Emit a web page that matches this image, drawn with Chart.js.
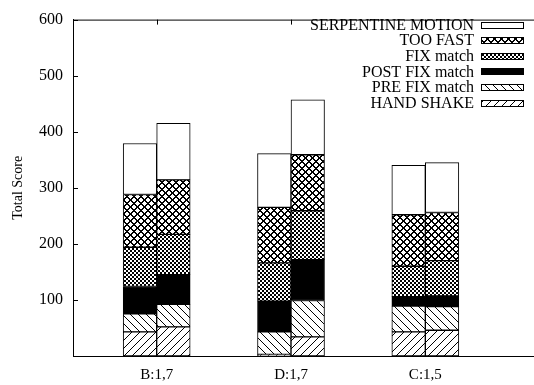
<!DOCTYPE html>
<html>
<head>
<meta charset="utf-8">
<script src="https://cdn.jsdelivr.net/npm/chart.js@4.4.0/dist/chart.umd.min.js"></script>
<style>
body { margin: 0; background: #fff; }
#wrap { width: 534px; height: 385px; }
</style>
</head>
<body>
<div id="wrap"><canvas id="chart" width="534" height="385"></canvas></div>
<script>
var categories = ["B:1,7", "D:1,7", "C:1,5"];
var layerNames = ["HAND SHAKE", "PRE FIX match", "POST FIX match", "FIX match", "TOO FAST", "SERPENTINE MOTION"];

// first bar of each pair
var handShakeA = [43, 3, 43];
var preFixA = [32, 40, 46];
var postFixA = [49, 55, 17];
var fixA = [70, 68, 54];
var tooFastA = [94, 99, 92];
var serpentineA = [91, 96, 88];

// second bar of each pair
var handShakeB = [52, 34, 46];
var preFixB = [40, 65, 42];
var postFixB = [53, 73, 19];
var fixB = [72, 87, 63];
var tooFastB = [97, 100, 86];
var serpentineB = [101, 98, 89];

var yTicks = [100, 200, 300, 400, 500, 600];

var ctx = document.getElementById("chart");
var FONT = "'Liberation Serif', 'Times New Roman', serif";

// pixel tiles for the gnuplot style fills
function makePattern(size, isInk)
{
    var c = document.createElement("canvas");
    c.width = size;
    c.height = size;
    var g = c.getContext("2d");
    var img = g.createImageData(size, size);
    for (var y = 0; y < size; y++) {
        for (var x = 0; x < size; x++) {
            var k = (y * size + x) * 4;
            var v = isInk(x, y) ? 0 : 255;
            img.data[k] = v; img.data[k + 1] = v; img.data[k + 2] = v; img.data[k + 3] = 255;
        }
    }
    g.putImageData(img, 0, 0);
    return ctx.getContext("2d").createPattern(c, "repeat");
}

var fills = [
    makePattern(8, function(x, y) { return (x + y) % 8 == 7; }),
    makePattern(8, function(x, y) { return (x - y + 8) % 8 == 0; }),
    "#000000",
    makePattern(4, function(x, y) { return ((x >> 1) + (y >> 1)) % 2 == 0; }),
    makePattern(7, function(x, y) { return (x + y) % 7 < 2 || (x - y + 14) % 7 < 2; }),
    "#ffffff"
];

var seriesA = [handShakeA, preFixA, postFixA, fixA, tooFastA, serpentineA];
var seriesB = [handShakeB, preFixB, postFixB, fixB, tooFastB, serpentineB];

function points(arr)
{
    return arr.map(function(v, i) { return {x: i, y: v}; });
}

var datasets = [];
for (var i = 0; i < layerNames.length; i++) {
    datasets.push({ label: layerNames[i], stack: "A", data: points(seriesA[i]), backgroundColor: fills[i] });
    datasets.push({ label: layerNames[i], stack: "B", data: points(seriesB[i]), backgroundColor: fills[i] });
}

var frame = {
    id: "frame",
    beforeDatasetsDraw: function(chart) {
        var c = chart.ctx, a = chart.chartArea, xs = chart.scales.x, ys = chart.scales.y;
        c.save();
        c.strokeStyle = "#000";
        c.lineWidth = 1;
        c.beginPath();
        c.moveTo(a.left, a.top + 0.5);
        c.lineTo(a.right, a.top + 0.5);
        yTicks.forEach(function(v) {
            var py = Math.round(ys.getPixelForValue(v)) + 0.5;
            c.moveTo(a.left, py);
            c.lineTo(a.left + 5, py);
        });
        categories.forEach(function(n, i) {
            var px = Math.round(xs.getPixelForValue(i)) + 0.5;
            c.moveTo(px, a.top);
            c.lineTo(px, a.top + 5);
            c.moveTo(px, a.bottom);
            c.lineTo(px, a.bottom - 5);
        });
        c.stroke();
        c.restore();
    },
    afterDatasetsDraw: function(chart) {
        var c = chart.ctx;
        c.save();
        c.font = "16px " + FONT;
        c.textAlign = "right";
        c.textBaseline = "middle";
        c.fillStyle = "#000";
        for (var i = 0; i < layerNames.length; i++) {
            var row = layerNames.length - 1 - i;
            var cy = 24.5 + row * 15.6;
            c.fillText(layerNames[i], 474, cy + 1);
            c.fillStyle = fills[i];
            c.fillRect(481, Math.round(cy) - 3, 42, 6);
            c.strokeStyle = "#000";
            c.strokeRect(481.5, Math.round(cy) - 2.5, 42, 6);
            c.fillStyle = "#000";
        }
        c.restore();
    }
};

var myChart = new Chart(ctx, {
    type: "bar",
    data: { datasets: datasets },
    options: {
        responsive: false,
        animation: false,
        layout: { padding: { top: 12, right: 0, left: 0, bottom: 0 } },
        datasets: {
            bar: {
                barThickness: 33.5,
                borderWidth: 1,
                borderColor: "#000",
                borderSkipped: false
            }
        },
        plugins: {
            legend: { display: false },
            tooltip: { enabled: false }
        },
        scales: {
            x: {
                type: "linear",
                offset: false,
                min: -0.623,
                max: 2.809,
                grid: { display: false, drawTicks: false, offset: false },
                border: { display: true, color: "#000", width: 1 },
                afterBuildTicks: function(scale) {
                    scale.ticks = categories.map(function(n, i) { return {value: i}; });
                },
                afterFit: function(scale) { scale.height = 29; },
                ticks: {
                    autoSkip: false,
                    maxRotation: 0,
                    padding: 10,
                    color: "#000",
                    font: { family: FONT, size: 15 },
                    callback: function(v) { return categories[v]; }
                }
            },
            y: {
                stacked: true,
                min: 0,
                max: 600,
                grid: { display: false, drawTicks: false },
                border: { display: true, color: "#000", width: 1 },
                afterFit: function(scale) { scale.width = 73; },
                title: {
                    display: true,
                    text: "Total Score",
                    color: "#000",
                    font: { family: FONT, size: 14 },
                    padding: { top: 10, bottom: 0 }
                },
                ticks: {
                    stepSize: 100,
                    padding: 10,
                    color: "#000",
                    font: { family: FONT, size: 16 },
                    callback: function(v) { return v == 0 ? "" : v; }
                }
            }
        }
    },
    plugins: [frame]
});
</script>
</body>
</html>
